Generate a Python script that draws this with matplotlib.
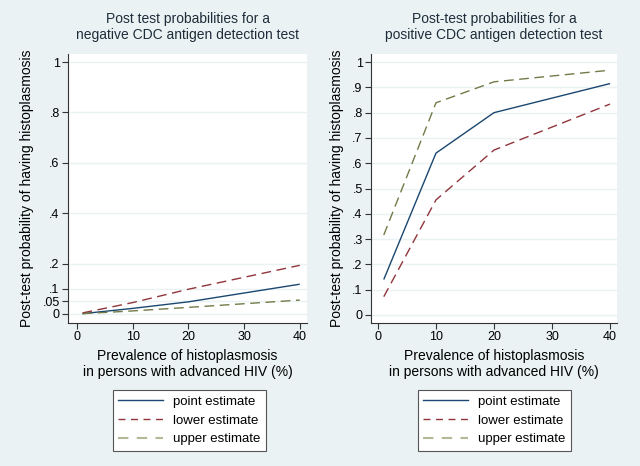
import matplotlib
matplotlib.use("Agg")
import matplotlib.pyplot as plt
from matplotlib.lines import Line2D

plt.rcParams['font.family'] = ['Liberation Sans', 'DejaVu Sans']

prevalence = [1, 10, 20, 40]
neg_point = [0.001, 0.022, 0.048, 0.118]
neg_lower = [0.004, 0.045, 0.098, 0.193]
neg_upper = [0.001, 0.012, 0.026, 0.055]
pos_point = [0.14, 0.64, 0.80, 0.915]
pos_lower = [0.072, 0.455, 0.652, 0.834]
pos_upper = [0.316, 0.839, 0.922, 0.968]

neg_yticks = [0, 0.05, 0.1, 0.2, 0.4, 0.6, 0.8, 1]
neg_yticklabels = ["0", ".05", ".1", ".2", ".4", ".6", ".8", "1"]
pos_yticks = [0, .1, .2, .3, .4, .5, .6, .7, .8, .9, 1]
pos_yticklabels = ["0", ".1", ".2", ".3", ".4", ".5", ".6", ".7", ".8", ".9", "1"]
xticks = [0, 10, 20, 30, 40]

titles = ["Post test probabilities for a\nnegative CDC antigen detection test",
          "Post-test probabilities for a\npositive CDC antigen detection test"]
xlabel = "Prevalence of histoplasmosis\nin persons with advanced HIV (%)"
ylabel = "Post-test probability of having histoplasmosis"
legend_labels = ["point estimate", "lower estimate", "upper estimate"]

bg = "#EAF2F3"
c_point = "#1A476F"
c_lower = "#90353B"
c_upper = "#737a48"
c_upper_leg = "#b4b896"

fig = plt.figure(figsize=(6.4, 4.66), dpi=100, facecolor=bg)

specs = [
    dict(rect=[68/640, 1-323/466, 239/640, 269/466], xlim=(-1.6, 41.3), ylim=(-0.036, 1.032),
         data=(neg_point, neg_lower, neg_upper), yt=neg_yticks, ytl=neg_yticklabels,
         leg=(110/640, 1-452/466, 159/640, 63/466)),
    dict(rect=[371/640, 1-323/466, 246/640, 269/466], xlim=(-1.2, 41.2), ylim=(-0.032, 1.032),
         data=(pos_point, pos_lower, pos_upper), yt=pos_yticks, ytl=pos_yticklabels,
         leg=(416/640, 1-452/466, 157/640, 63/466)),
]

for i, s in enumerate(specs):
    ax = fig.add_axes(s['rect'])
    ax.set_facecolor("white")
    p, lo, up = s['data']
    ax.plot(prevalence, p, color=c_point, lw=1.0, solid_capstyle='butt')
    ax.plot(prevalence, lo, color=c_lower, lw=1.0, dashes=(7, 4))
    ax.plot(prevalence, up, color=c_upper, lw=1.0, dashes=(7, 4))
    ax.set_xlim(*s['xlim'])
    ax.set_ylim(*s['ylim'])
    ax.set_xticks(xticks)
    ax.set_xticklabels([str(t) for t in xticks], fontsize=9)
    ax.set_yticks(s['yt'])
    ax.set_yticklabels(s['ytl'], fontsize=9)
    ax.grid(axis='y', color=bg, lw=1.0)
    ax.set_axisbelow(True)
    for sp in ['top', 'right']:
        ax.spines[sp].set_visible(False)
    for sp in ['left', 'bottom']:
        ax.spines[sp].set_color("#333333")
        ax.spines[sp].set_linewidth(0.8)
    ax.tick_params(colors="#333333", length=4, width=0.8, labelcolor="black", pad=2)
    ax.set_title(titles[i], fontsize=10, color="#1e2d3b", pad=11, linespacing=1.12)
    ax.set_xlabel(xlabel, fontsize=10, labelpad=4, linespacing=1.15)
    ax.set_ylabel(ylabel, fontsize=10, labelpad=6)

    lx, ly, lw_, lh = s['leg']
    handles = [Line2D([], [], color=c_point, lw=1.0),
               Line2D([], [], color=c_lower, lw=1.0, dashes=(5, 4)),
               Line2D([], [], color=c_upper_leg, lw=1.5, dashes=(5, 4))]
    leg = fig.legend(handles, legend_labels, loc='center',
                     bbox_to_anchor=(lx, ly, lw_, lh), fontsize=9.5,
                     frameon=True, fancybox=False, edgecolor="#555555",
                     facecolor="white", framealpha=1, handlelength=3.4,
                     handletextpad=0.75, labelspacing=0.5, borderpad=0.4)
    leg.get_frame().set_linewidth(0.8)

fig.savefig("out.png", dpi=100, facecolor=bg)
